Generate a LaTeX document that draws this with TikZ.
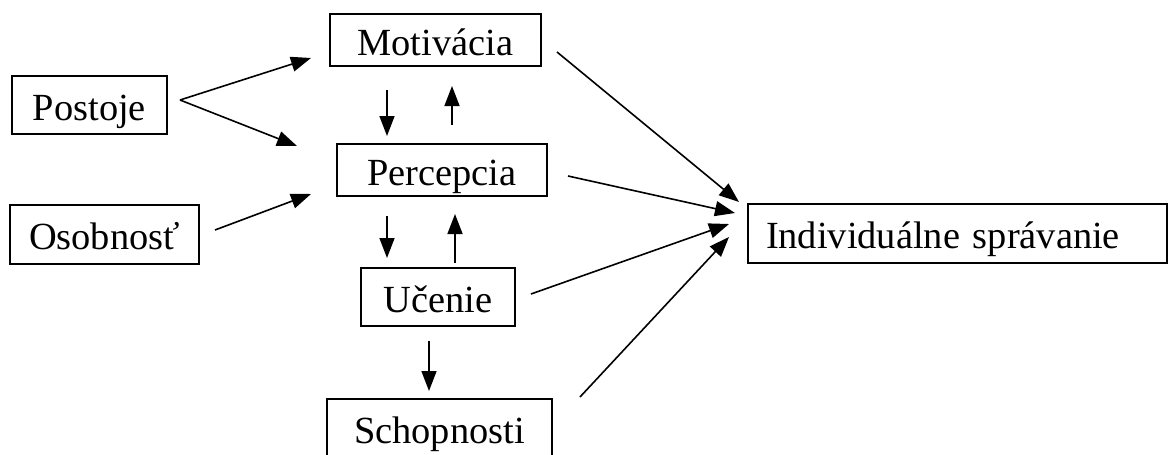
\documentclass[tikz,border=0pt]{standalone}
\usepackage{fontspec}
\setmainfont{Liberation Serif}
\usetikzlibrary{arrows.meta}
\tikzset{box/.style={draw,line width=1pt,inner sep=0pt,minimum height=29pt,
   text height=15pt,text depth=0pt,font=\fontsize{19.2}{23}\selectfont},
 arr/.style={line width=0.8pt,-{Triangle[length=10pt,width=7.5pt]}},
 }

\begin{document}
\begin{tikzpicture}[x=0.5pt,y=-0.5pt]
        \useasboundingbox (0,0) rectangle (1175,455);
        \node[box,minimum width=77.5pt] (postoje) at (89.5,105) {Postoje};
        \node[box,minimum width=94.5pt,minimum height=29.5pt] (osobnost) at (104.5,234.5) {Osobnosť};
        \node[box,minimum width=105.5pt,minimum height=26pt] (motivacia) at (435.5,40) {Motivácia};
        \node[box,minimum width=105pt,minimum height=26pt] (percepcia) at (442,170) {Percepcia};
        \node[box,minimum width=77pt] (ucenie) at (438,297) {Učenie};
        \node[box,minimum width=112.5pt] (schopnosti) at (439.5,428) {Schopnosti};
        \node[box,minimum height=29.5pt,inner xsep=9pt,text width=191.5pt,align=left] (ind) at (957.5,233.5) {Individuálne správanie};

        \draw[arr] ([shift={(12,-5)}]postoje.east) -- ([shift={(-18,18)}]motivacia.west);
        \draw[arr] ([shift={(12,-5)}]postoje.east) -- ([shift={(-39,-24)}]percepcia.west);
        \draw[arr] ([shift={(15,-4.5)}]osobnost.east) -- ([shift={(-25,24)}]percepcia.west);

        \draw[arr] ([shift={(-48.5,23)}]motivacia.south) -- ([shift={(-55,-7)}]percepcia.north);
        \draw[arr] ([shift={(10,-18)}]percepcia.north) -- ([shift={(16.5,19)}]motivacia.south);
        \draw[arr] ([shift={(-55,19)}]percepcia.south) -- ([shift={(-51,-9)}]ucenie.north);
        \draw[arr] ([shift={(17,-4)}]ucenie.north) -- ([shift={(13,17)}]percepcia.south);
        \draw[arr] ([shift={(-9,14)}]ucenie.south) -- ([shift={(-10.5,-7)}]schopnosti.north);

        \draw[arr] ([shift={(15,12)}]motivacia.east) -- ([shift={(-8,-31.5)}]ind.west);
        \draw[arr] ([shift={(20,6)}]percepcia.east) -- ([shift={(-12,-20.5)}]ind.west);
        \draw[arr] ([shift={(15,-3)}]ucenie.east) -- ([shift={(-18,-9.5)}]ind.west);
        \draw[arr] ([shift={(27,-1)}]schopnosti.north east) -- ([shift={(-18,3.5)}]ind.west);
\end{tikzpicture}
\end{document}
